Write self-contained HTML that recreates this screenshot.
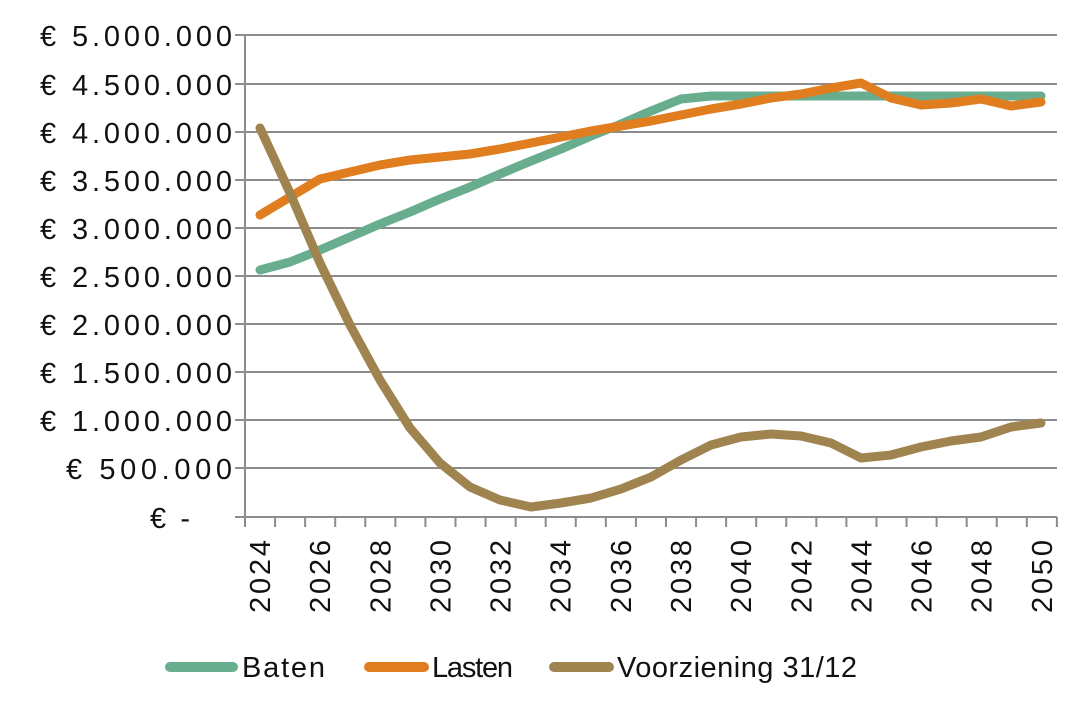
<!DOCTYPE html>
<html><head><meta charset="utf-8"><style>
html,body{margin:0;padding:0;background:#fff;}
svg{display:block;font-family:"Liberation Sans",sans-serif;}
</style></head><body>
<svg width="1092" height="715" viewBox="0 0 1092 715" xmlns="http://www.w3.org/2000/svg">
<rect width="1092" height="715" fill="#fff"/>
<g stroke="#8c8c8c" stroke-width="2">
<line x1="235" y1="35" x2="1057" y2="35"/>
<line x1="235" y1="84" x2="1057" y2="84"/>
<line x1="235" y1="132" x2="1057" y2="132"/>
<line x1="235" y1="180" x2="1057" y2="180"/>
<line x1="235" y1="228" x2="1057" y2="228"/>
<line x1="235" y1="276" x2="1057" y2="276"/>
<line x1="235" y1="324" x2="1057" y2="324"/>
<line x1="235" y1="372" x2="1057" y2="372"/>
<line x1="235" y1="420" x2="1057" y2="420"/>
<line x1="235" y1="468" x2="1057" y2="468"/>
<line x1="235" y1="517" x2="1057" y2="517"/>
<line x1="245" y1="35" x2="245" y2="527"/>
</g>
<g stroke="#8c8c8c" stroke-width="2" id="ticks"></g>
<g font-size="29" fill="#111" text-anchor="end">
<text x="232" y="46" textLength="192">€ 5.000.000</text>
<text x="232" y="95" textLength="192">€ 4.500.000</text>
<text x="232" y="143" textLength="192">€ 4.000.000</text>
<text x="232" y="191" textLength="192">€ 3.500.000</text>
<text x="232" y="239" textLength="192">€ 3.000.000</text>
<text x="232" y="287" textLength="192">€ 2.500.000</text>
<text x="232" y="335" textLength="192">€ 2.000.000</text>
<text x="232" y="383" textLength="192">€ 1.500.000</text>
<text x="232" y="431" textLength="192">€ 1.000.000</text>
<text x="232" y="479" textLength="166">€ 500.000</text>
<text x="190" y="528" textLength="40">€ -</text>
</g>
<g fill="none" stroke-width="9" stroke-linejoin="round" stroke-linecap="round">
<polyline stroke="#67ad8e" points="260,270 290,262 320,250 350,237 380,224 410,212 440,199 470,187 500,174 531,161 561,149 591,136 621,124 651,111 681,99 711,96 741,96 771,96 801,96 831,96 861,96 891,96 921,96 951,96 981,96 1011,96 1041,96"/>
<polyline stroke="#e07e1f" points="260,215 290,197 320,179 350,172 380,165 410,160 440,157 470,154 500,149 531,143 561,137 591,131 621,126 651,121 681,115 711,109 741,104 771,98 801,94 831,88 861,83 891,98 921,105 951,103 981,99 1011,106 1041,102"/>
<polyline stroke="#a0844f" points="260,128 290,193 320,263 350,325 380,380 410,428 440,463 470,487 500,500 531,507 561,503 591,498 621,489 651,477 681,460 711,445 741,437 771,434 801,436 831,443 861,458 891,455 921,447 951,441 981,437 1011,427 1041,423"/>
</g>
<g font-size="29" fill="#111" id="xl"></g>
<g stroke-width="10" stroke-linecap="round">
<line x1="170" y1="667" x2="233" y2="667" stroke="#67ad8e"/>
<line x1="369" y1="667" x2="424" y2="667" stroke="#e07e1f"/>
<line x1="554" y1="667" x2="609" y2="667" stroke="#a0844f"/>
</g>
<g font-size="29" fill="#111">
<text x="242" y="677" textLength="83">Baten</text>
<text x="432" y="677" textLength="81">Lasten</text>
<text x="617" y="677" textLength="240">Voorziening 31/12</text>
</g>
<script>
var t=document.getElementById('ticks'),xl=document.getElementById('xl'),ns='http://www.w3.org/2000/svg';
for(var i=0;i<=27;i++){var x=245+i*30.07;var l=document.createElementNS(ns,'line');l.setAttribute('x1',x);l.setAttribute('x2',x);l.setAttribute('y1',517);l.setAttribute('y2',527);t.appendChild(l);}
for(var y=2024;y<=2050;y+=2){var cx=260+(y-2024)*30.07;var e=document.createElementNS(ns,'text');e.setAttribute('transform','translate('+(cx+10)+',613) rotate(-90)');e.setAttribute('textLength','73');e.textContent=y;xl.appendChild(e);}
</script>
</svg>
</body></html>
